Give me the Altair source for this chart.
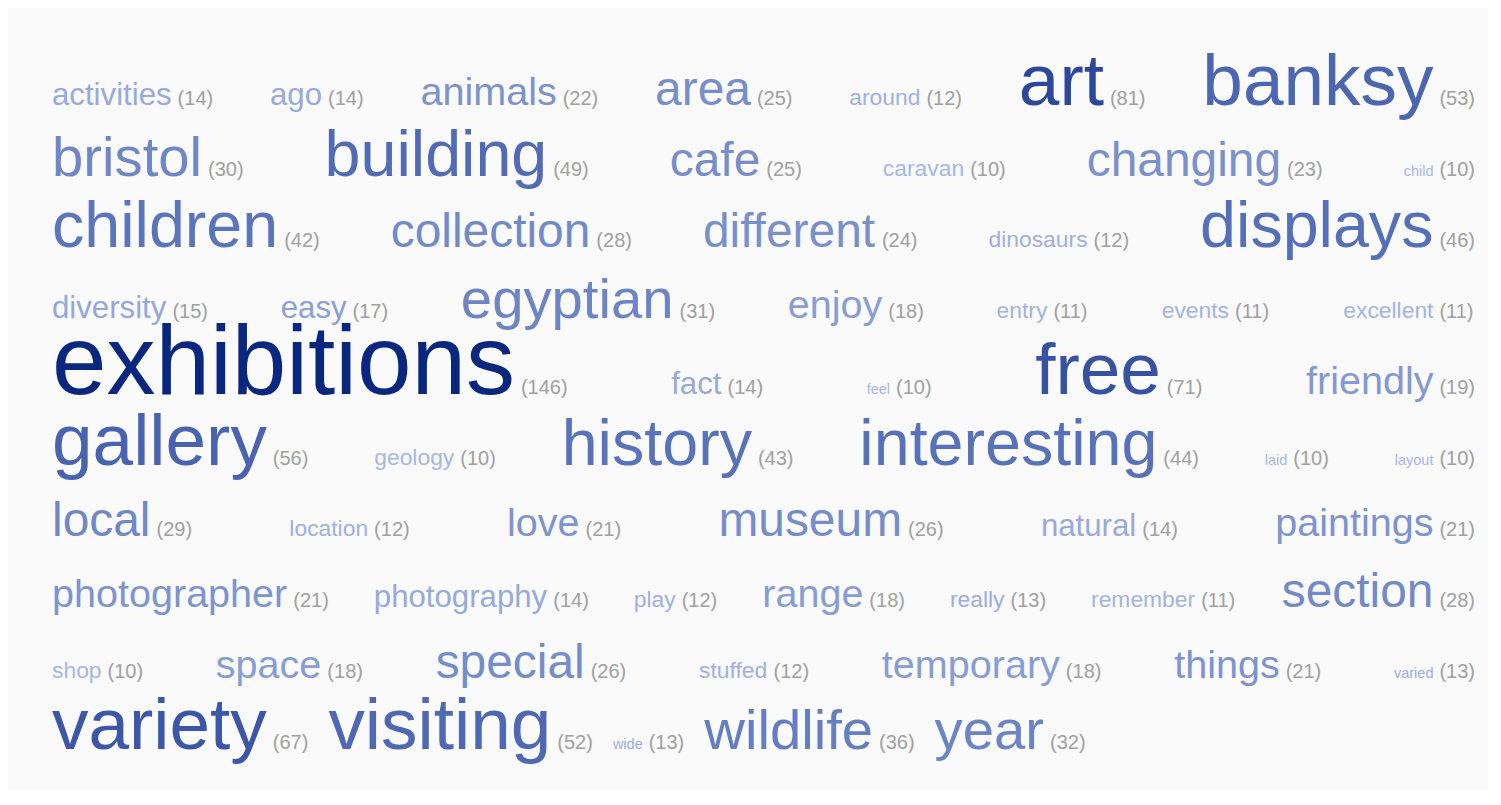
import altair as alt
import pandas as pd

words = ["activities", "ago", "animals", "area", "around", "art", "banksy",
         "bristol", "building", "cafe", "caravan", "changing", "child",
         "children", "collection", "different", "dinosaurs", "displays",
         "diversity", "easy", "egyptian", "enjoy", "entry", "events", "excellent",
         "exhibitions", "fact", "feel", "free", "friendly",
         "gallery", "geology", "history", "interesting", "laid", "layout",
         "local", "location", "love", "museum", "natural", "paintings",
         "photographer", "photography", "play", "range", "really", "remember", "section",
         "shop", "space", "special", "stuffed", "temporary", "things", "varied",
         "variety", "visiting", "wide", "wildlife", "year"]
counts = [14, 14, 22, 25, 12, 81, 53,
          30, 49, 25, 10, 23, 10,
          42, 28, 24, 12, 46,
          15, 17, 31, 18, 11, 11, 11,
          146, 14, 10, 71, 19,
          56, 10, 43, 44, 10, 10,
          29, 12, 21, 26, 14, 21,
          21, 14, 12, 18, 13, 11, 28,
          10, 18, 26, 12, 18, 21, 13,
          67, 52, 13, 36, 32]
# tag weight class (drives the font size)
levels = [3, 3, 4, 5, 2, 8, 8,
          6, 7, 5, 2, 5, 1,
          7, 5, 5, 2, 7,
          3, 3, 6, 4, 2, 2, 2,
          11, 3, 1, 8, 4,
          8, 2, 7, 7, 1, 1,
          5, 2, 4, 5, 3, 4,
          4, 3, 2, 4, 2, 2, 5,
          2, 4, 5, 2, 4, 4, 1,
          8, 8, 1, 6, 6]

# ---------------- layout parameters ----------------
FONT = "Liberation Sans, Arial, Helvetica, sans-serif"
W_CHART, H_CHART = 1480, 782
LEFT, RIGHT = 44, 1467          # justified line extent
WRAP = 1320                      # natural width at which lines wrap
GAP = 20                         # natural gap between tags
COUNT_SIZE = 20
COUNT_SP = 6
FIRST_BASE = 97
LINE_MIN = 71
LINE_K = 0.78
SIZE_DOMAIN = [1, 11]
SIZE_RANGE = [14.5, 98]
COLOR_DOMAIN = [10, 20, 45, 80, 146]
COLOR_RANGE = ["#a7b7e2", "#8096cf", "#5670b9", "#2c489c", "#0a2780"]

# Helvetica/Arial advance widths (1/1000 em)
CW = {'a': 556, 'b': 556, 'c': 500, 'd': 556, 'e': 556, 'f': 278, 'g': 556, 'h': 556,
      'i': 222, 'j': 222, 'k': 500, 'l': 222, 'm': 833, 'n': 556, 'o': 556, 'p': 556,
      'q': 556, 'r': 333, 's': 500, 't': 278, 'u': 556, 'v': 500, 'w': 722, 'x': 500,
      'y': 500, 'z': 500, ' ': 278, '(': 333, ')': 333}
for d in "0123456789":
    CW[d] = 556


def font_size(level):
    t = (level - SIZE_DOMAIN[0]) / (SIZE_DOMAIN[1] - SIZE_DOMAIN[0])
    return SIZE_RANGE[0] + t * (SIZE_RANGE[1] - SIZE_RANGE[0])


def text_w(s, fs):
    return sum(CW.get(ch, 556) for ch in s) * fs / 1000.0


items = []
for w, c, lv in zip(words, counts, levels):
    fs = font_size(lv)
    label = f"({c})"
    ww = text_w(w, fs)
    cw = text_w(label, COUNT_SIZE)
    items.append(dict(word=w, count=c, level=lv, label=label, fs=fs,
                      ww=ww, total=ww + COUNT_SP + cw))

# greedy line wrapping
rows, cur, curw = [], [], 0.0
for it in items:
    add = it["total"] + (GAP if cur else 0)
    if cur and curw + add > WRAP:
        rows.append(cur)
        cur, curw = [it], it["total"]
    else:
        cur.append(it)
        curw += add
if cur:
    rows.append(cur)

# justify and place lines
records = []
y = FIRST_BASE
for r_i, row in enumerate(rows):
    if r_i > 0:
        y += max(LINE_MIN, LINE_K * max(it["fs"] for it in row))
    natural = sum(it["total"] for it in row)
    last = r_i == len(rows) - 1
    gap = GAP if (last or len(row) < 2) else (RIGHT - LEFT - natural) / (len(row) - 1)
    x = LEFT
    for it in row:
        records.append(dict(word=it["word"], count=it["count"], level=it["level"],
                            label=it["label"], x=x, cx=x + it["ww"] + COUNT_SP, y=y))
        x += it["total"] + gap

df = pd.DataFrame(records)

xs = alt.Scale(domain=[0, W_CHART], nice=False, zero=False)
ys = alt.Scale(domain=[0, H_CHART], nice=False, zero=False, reverse=True)

word_layer = alt.Chart(df).mark_text(
    align="left", baseline="alphabetic", font=FONT
).encode(
    x=alt.X("x:Q", scale=xs, axis=None),
    y=alt.Y("y:Q", scale=ys, axis=None),
    text="word:N",
    size=alt.Size("level:Q", scale=alt.Scale(domain=SIZE_DOMAIN, range=SIZE_RANGE), legend=None),
    color=alt.Color("count:Q", scale=alt.Scale(domain=COLOR_DOMAIN, range=COLOR_RANGE,
                                               interpolate="rgb"), legend=None),
)

count_layer = alt.Chart(df).mark_text(
    align="left", baseline="alphabetic", font=FONT, fontSize=COUNT_SIZE, color="#a0a0a0"
).encode(
    x=alt.X("cx:Q", scale=xs, axis=None),
    y=alt.Y("y:Q", scale=ys, axis=None),
    text="label:N",
)

chart = alt.layer(word_layer, count_layer).properties(
    width=W_CHART, height=H_CHART, background="#fafafa", padding=0
).configure_view(stroke="transparent")

chart.save("out.html", embed_options={"renderer": "svg", "actions": False})
